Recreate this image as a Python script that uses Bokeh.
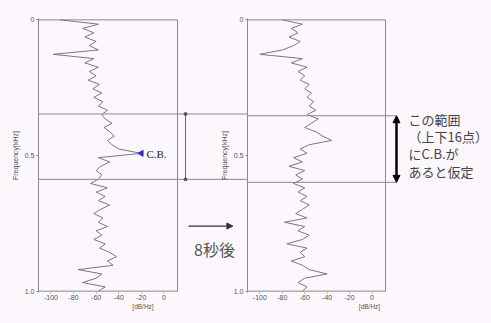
import numpy as np
from bokeh.plotting import figure
from bokeh.layouts import row
from bokeh.models import Range1d, FixedTicker, Arrow, NormalHead
from bokeh.embed import file_html
from bokeh.resources import INLINE
from bokeh.core.properties import value

# ---- data -------------------------------------------------------------
db_before = [-92, -58, -72, -62, -70, -60, -66, -58, -98, -62,
             -70, -58, -66, -60, -67, -57, -63, -55, -62, -54,
             -58, -50, -55, -52, -46, -53, -48, -44, -50, -46,
             -40, -20, -58, -48, -56, -60, -55, -58, -65, -50,
             -60, -52, -58, -48, -56, -62, -54, -58, -50, -60,
             -55, -62, -52, -57, -48, -42, -50, -45, -76, -55,
             -60, -72, -52, -58]
db_after = [-80, -62, -72, -66, -74, -64, -70, -80, -100, -62,
            -72, -58, -66, -60, -64, -56, -60, -54, -58, -52,
            -56, -50, -58, -48, -54, -60, -50, -44, -36, -56,
            -64, -58, -70, -62, -74, -60, -68, -62, -70, -60,
            -66, -58, -64, -56, -62, -68, -58, -78, -60, -66,
            -56, -62, -76, -58, -64, -60, -72, -62, -56, -40,
            -60, -66, -58, -62]
freq = np.arange(len(db_before)) / (len(db_before) - 1)   # normalised bin position

x_ticks = [-100, -80, -60, -40, -20, 0]
x_tick_labels = ["-100", "-80", "-60", "-40", "-20", "0"]
y_ticks = [0.0, 0.5, 1.0]
y_tick_labels = ["0", "0.5", "1.0"]
x_title = "[dB/Hz]"
y_title = "Frequency[kHz]"
band_lo, band_hi = 0.347, 0.588
cb_index = 31
note_lines = ["この範囲", "（上下16点）", "にC.B.が", "あると仮定"]
shift_text = "8秒後"
cb_text = "C.B."

# ---- styling / layout --------------------------------------------------
BG = "#fcf7fc"
GRAY = "#8a8a8a"
TXT = "#555555"
X0, X1 = -111, 12
Y0, Y1 = 1.005, -0.005
JP = "Noto Sans CJK JP"
H = 323


def make_fig(width, b_left, b_bottom, x_end, transparent_border=False):
    p = figure(width=width, height=H, x_range=Range1d(X0, x_end),
               y_range=Range1d(Y0, Y1), output_backend="svg",
               toolbar_location=None, min_border_left=b_left, min_border_right=0,
               min_border_top=18, min_border_bottom=b_bottom,
               background_fill_color=BG, border_fill_color=BG,
               outline_line_color=None)
    if transparent_border:
        p.border_fill_alpha = 0
    p.grid.visible = False
    xa = p.xaxis[0]
    xa.ticker = FixedTicker(ticks=x_ticks)
    xa.major_label_overrides = {t: l for t, l in zip(x_ticks, x_tick_labels)}
    xa.axis_line_color = None
    xa.major_tick_out = 1
    xa.major_tick_in = 0
    xa.major_tick_line_color = GRAY
    xa.minor_tick_line_color = None
    xa.major_label_standoff = 1
    xa.major_label_text_font_size = "7px"
    xa.major_label_text_color = TXT
    xa.axis_label = x_title
    xa.axis_label_text_font_size = "6.5px"
    xa.axis_label_text_font_style = "normal"
    xa.axis_label_text_color = TXT
    xa.axis_label_standoff = 0
    ya = p.yaxis[0]
    ya.ticker = FixedTicker(ticks=y_ticks)
    ya.major_label_overrides = {t: l for t, l in zip(y_ticks, y_tick_labels)}
    ya.axis_line_color = GRAY
    ya.major_tick_out = 2
    ya.major_tick_in = 0
    ya.major_tick_line_color = GRAY
    ya.minor_tick_line_color = None
    ya.major_label_standoff = 2
    ya.major_label_text_font_size = "7px"
    ya.major_label_text_color = TXT
    ya.axis_label = y_title
    ya.axis_label_text_font_size = "7px"
    ya.axis_label_text_font_style = "normal"
    ya.axis_label_text_color = TXT
    ya.axis_label_standoff = 3
    p.quad(left=X0, right=X1, top=0, bottom=1, fill_color=None,
           line_color=GRAY, line_width=1)
    return p


# ---- left panel -------------------------------------------------------
sL = 139 / (X1 - X0)                  # px per dB in left panel
xL_end = X0 + 209 / sL
pL = make_fig(247, 38, 26, xL_end)
pL.line(db_before, freq, line_color="#7a7a7a", line_width=1)
pL.segment(x0=[X0, X0], y0=[band_lo, band_hi], x1=[xL_end, xL_end],
           y1=[band_lo, band_hi], line_color=GRAY, line_width=1)
pL.segment(x0=[19.1], y0=[band_lo], x1=[19.1], y1=[band_hi],
           line_color="#666666", line_width=1)
pL.scatter(x=[19.1, 19.1], y=[band_lo, band_hi], size=3, color="#555555")
pL.scatter(x=[db_before[cb_index]], y=[freq[cb_index]], marker="triangle",
           angle=np.pi / 2, size=6, color="#3030c0")
pL.text(x=[-15.5], y=[freq[cb_index] + 0.004], text=[cb_text],
        text_font=value("Liberation Serif"), text_font_size="11px",
        text_color="#222244", text_baseline="middle")
pL.add_layout(Arrow(end=NormalHead(size=6, fill_color="#333333", line_color="#333333"),
                    x_start=21.7, y_start=0.76, x_end=61.0, y_end=0.76,
                    line_color="#333333", line_width=1.2))
pL.text(x=[44.7], y=[0.845], text=[shift_text], text_font=value(JP),
        text_font_size="16px", text_color=TXT, text_align="center",
        text_baseline="middle")

# ---- right panel ------------------------------------------------------
sR = 138 / (X1 - X0)
xR_end = X0 + 244 / sR
pR = make_fig(274, 30, 31, xR_end, transparent_border=True)
pR.margin = (0, 0, 0, -30)
pR.line(db_after, freq, line_color="#7a7a7a", line_width=1)
# band positions re-expressed so the lines meet those of the left panel
k = 277 / 272
bR_lo = Y1 + (band_lo - Y1) * k
bR_hi = Y1 + (band_hi - Y1) * k
pR.segment(x0=[X0, X0], y0=[bR_lo, bR_hi], x1=[21.8, 21.8],
           y1=[bR_lo, bR_hi], line_color=GRAY, line_width=1)
pR.add_layout(Arrow(start=NormalHead(size=7, fill_color="black", line_color="black"),
                    end=NormalHead(size=7, fill_color="black", line_color="black"),
                    x_start=21.8, y_start=bR_lo, x_end=21.8, y_end=bR_hi,
                    line_color="black", line_width=2.5))
for line, yy in zip(note_lines, [0.366, 0.429, 0.493, 0.559]):
    pR.text(x=[32.5], y=[yy], text=[line], text_font=value(JP),
            text_font_size="13px", text_color="#444444", text_baseline="middle")

layout = row(pL, pR, spacing=0)
html = file_html(layout, INLINE)
html = html.replace("</head>",
                    "<style>html, body { background: %s !important; }</style></head>" % BG, 1)
open("out.html", "w").write(html)
